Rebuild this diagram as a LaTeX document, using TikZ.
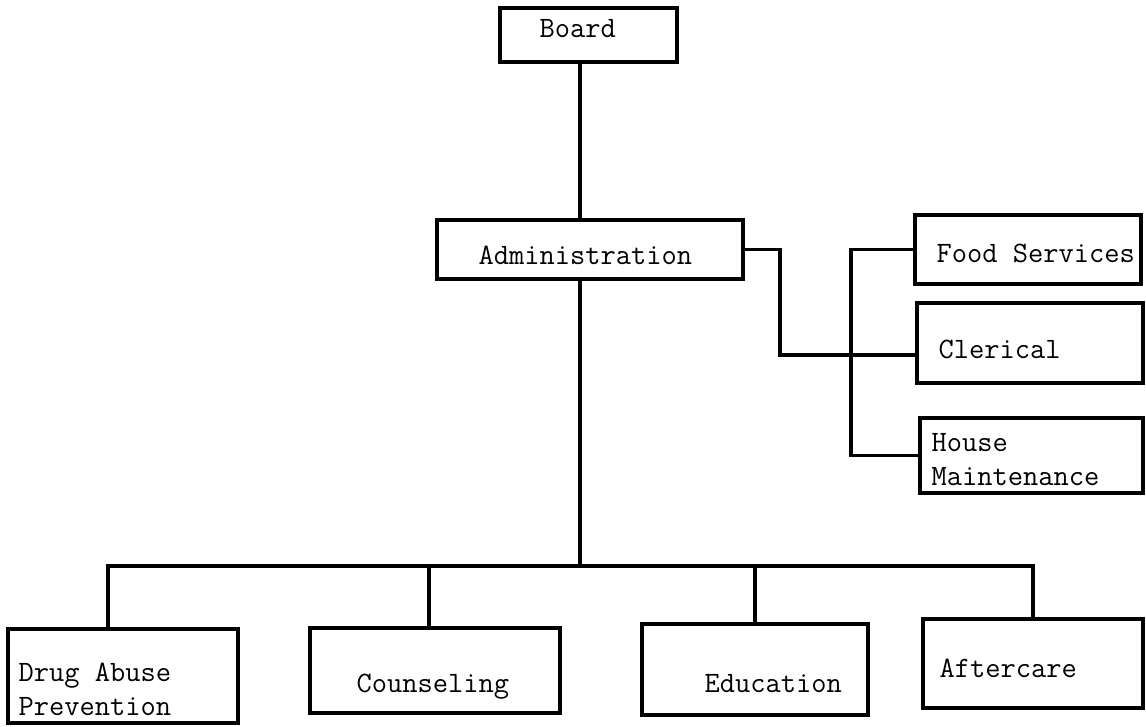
\documentclass[tikz,border=0pt]{standalone}
\usepackage{fontspec}
\begin{document}
\begin{tikzpicture}[x=0.5pt,y=-0.5pt,
  line width=1.6pt,
  unit/.style={draw, rectangle, inner sep=0pt},
  lbl/.style={anchor=base west, inner sep=0pt, align=left,
    font=\ttfamily\fontsize{14.8}{17}\selectfont}]
\useasboundingbox (0,0) rectangle (1146,727);

% boxes
\node[unit, minimum width=88.5pt, minimum height=27pt]   (board)    at (588.5,35) {};
\node[unit, minimum width=153pt,  minimum height=29.5pt] (admin)    at (590,249.5) {};
\node[unit, minimum width=113pt,  minimum height=34.5pt] (food)     at (1028,249.5) {};
\node[unit, minimum width=113pt,  minimum height=40pt]   (clerical) at (1030,343) {};
\node[unit, minimum width=111.5pt,minimum height=37.5pt] (house)    at (1031.5,455.5) {};
\node[unit, minimum width=115pt,  minimum height=47pt]   (drug)     at (123,676) {};
\node[unit, minimum width=125pt,  minimum height=42.5pt] (couns)    at (435,670.5) {};
\node[unit, minimum width=113pt,  minimum height=45.5pt] (educ)     at (755,669.5) {};
\node[unit, minimum width=110pt,  minimum height=44.5pt] (after)    at (1033,663.5) {};

% labels (two-line labels are placed by the baseline of their last line)
\node[lbl] (tboard)    at (538,38)  {Board};
\node[lbl] (tadmin)    at (477,265) {Administration};
\node[lbl] (tfood)     at (935,263) {Food Services};
\node[lbl] (tclerical) at (937,358) {Clerical};
\node[lbl] (thouse)    at (930,485) {House\\Maintenance};
\node[lbl] (tdrug)     at (17,715)  {Drug Abuse\\Prevention};
\node[lbl] (tcouns)    at (355,692) {Counseling};
\node[lbl] (teduc)     at (703,692) {Education};
\node[lbl] (tafter)    at (938,677) {Aftercare};

% guide coordinates for the connector runs
\coordinate (spine) at (580,0);
\coordinate (barL)  at (108,566);
\coordinate (barR)  at (1033,566);
\coordinate (cdrop) at (429,566);
\coordinate (edrop) at (755,566);
\coordinate (elbow) at (780,0);
\coordinate (cl)    at (0,355);
\coordinate (bus)   at (851,0);

% vertical chain of command
\draw (board.south -| spine) -- (admin.north -| spine);
\draw (admin.south -| spine) -- (spine |- barL);

% program units
\draw (drug.north -| barL) -- (barL) -- (barR) -- (after.north -| barR);
\draw (cdrop) -- (couns.north -| cdrop);
\draw (edrop) -- (educ.north -| edrop);

% support services
\draw (admin.east) -- (admin.east -| elbow) -- (elbow |- cl) -- (clerical.west |- cl);
\draw (food.west) -- (food.west -| bus) -- (house.west -| bus) -- (house.west);
\end{tikzpicture}
\end{document}
